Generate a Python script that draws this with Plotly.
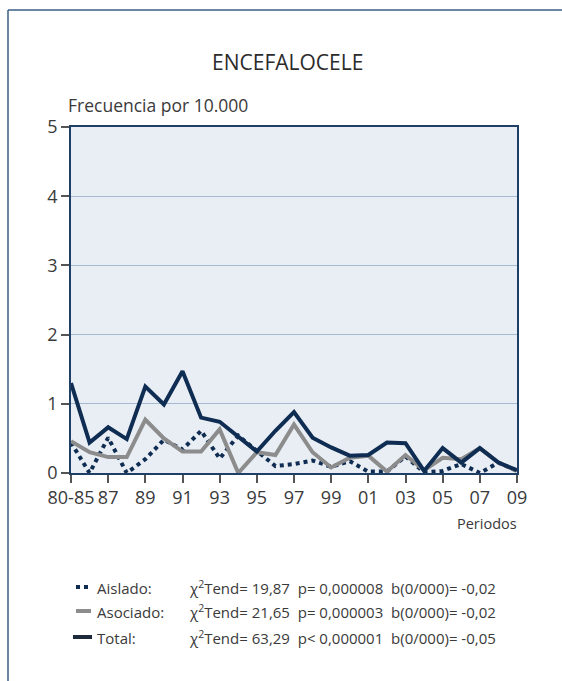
import plotly.graph_objects as go

periods = ["80-85"] + [f"{y:02d}" for y in list(range(86, 100)) + list(range(0, 10))]
tick_labels = ["80-85", "87", "89", "91", "93", "95", "97", "99", "01", "03", "05", "07", "09"]

aislado = [0.44, 0.00, 0.51, 0.00, 0.20, 0.48, 0.34, 0.61, 0.21, 0.54, 0.32, 0.10,
           0.13, 0.18, 0.09, 0.17, 0.02, 0.02, 0.24, 0.01, 0.03, 0.13, 0.00, 0.15, 0.03]
asociado = [0.46, 0.30, 0.23, 0.23, 0.77, 0.50, 0.31, 0.31, 0.63, 0.00, 0.30, 0.26,
            0.70, 0.30, 0.08, 0.22, 0.25, 0.02, 0.26, 0.04, 0.22, 0.20, 0.36, 0.15, 0.03]
total = [1.30, 0.44, 0.66, 0.49, 1.25, 0.99, 1.47, 0.80, 0.74, 0.52, 0.31, 0.61,
         0.88, 0.51, 0.37, 0.25, 0.26, 0.44, 0.43, 0.03, 0.36, 0.15, 0.36, 0.15, 0.04]

legend_names = ["Aislado:", "Asociado:", "Total:"]
legend_stats = ["χ<sup>2</sup>Tend= 19,87  p= 0,000008  b(0/000)= -0,02",
                "χ<sup>2</sup>Tend= 21,65  p= 0,000003  b(0/000)= -0,02",
                "χ<sup>2</sup>Tend= 63,29  p< 0,000001  b(0/000)= -0,05"]

NAVY = "#0f2d52"
GRAY = "#8c8c8c"
TXT = "#3a3a3a"
FONT = "Open Sans"

xs = list(range(len(periods)))
fig = go.Figure()
fig.add_trace(go.Scatter(x=xs, y=aislado, mode="lines", line=dict(color=NAVY, width=4, dash="dot"),
                         hoverinfo="skip", showlegend=False))
fig.add_trace(go.Scatter(x=xs, y=asociado, mode="lines", line=dict(color=GRAY, width=4),
                         hoverinfo="skip", showlegend=False))
fig.add_trace(go.Scatter(x=xs, y=total, mode="lines", line=dict(color=NAVY, width=4),
                         hoverinfo="skip", showlegend=False))

L, R, T, B = 71, 45, 127, 208
W, H = 562, 681
pw, ph = W - L - R, H - T - B

def px(x):
    return (x - L) / pw

def py(y):
    return (H - B - y) / ph

fig.update_layout(
    width=W, height=H,
    margin=dict(l=L, r=R, t=T, b=B),
    paper_bgcolor="white",
    plot_bgcolor="#e9eef4",
    font=dict(family=FONT, color=TXT),
    xaxis=dict(range=[0, len(periods) - 1], tickmode="array",
               tickvals=list(range(0, len(periods), 2)), ticktext=tick_labels,
               ticks="outside", ticklen=8, tickcolor="#555", tickwidth=1.5,
               showgrid=False, zeroline=False, showline=True, linecolor="#1f3f66",
               linewidth=1.5, mirror=True, tickfont=dict(size=18, color=TXT, family=FONT)),
    yaxis=dict(range=[0, 5], tickvals=[0, 1, 2, 3, 4, 5], ticks="outside", ticklen=8,
               tickcolor="#555", tickwidth=1.5, showgrid=True, gridcolor="#a3bad2",
               gridwidth=1, zeroline=False, showline=True, linecolor="#1f3f66",
               linewidth=1.5, mirror=True, tickfont=dict(size=18, color=TXT, family=FONT)),
)

ann = []
ann.append(dict(text="ENCEFALOCELE", x=px(287), y=py(62), xref="paper", yref="paper",
                showarrow=False, font=dict(size=21, color="#2b2b2b"), xanchor="center", yanchor="middle"))
ann.append(dict(text="Frecuencia por 10.000", x=px(66), y=py(105), xref="paper", yref="paper",
                showarrow=False, font=dict(size=17.5, color=TXT), xanchor="left", yanchor="middle"))
ann.append(dict(text="Periodos", x=px(519), y=py(523), xref="paper", yref="paper",
                showarrow=False, font=dict(size=14.5, color=TXT), xanchor="right", yanchor="middle"))

rows_y = [587, 611, 637]
for i in range(3):
    ann.append(dict(text=legend_names[i], x=px(95), y=py(rows_y[i] + 1), xref="paper", yref="paper",
                    showarrow=False, font=dict(size=15, color=TXT), xanchor="left", yanchor="middle"))
    ann.append(dict(text=legend_stats[i], x=px(187), y=py(rows_y[i]), xref="paper", yref="paper",
                    showarrow=False, font=dict(size=15, color=TXT), xanchor="left", yanchor="middle"))
fig.update_layout(annotations=ann)

shapes = []
# frame
shapes.append(dict(type="line", xref="paper", yref="paper", x0=px(8), x1=px(562), y0=py(10), y1=py(10),
                   line=dict(color="#3b5f86", width=1.5)))
shapes.append(dict(type="line", xref="paper", yref="paper", x0=px(8), x1=px(8), y0=py(10), y1=py(681),
                   line=dict(color="#3b5f86", width=1.5)))
# legend symbols
shapes.append(dict(type="line", xref="paper", yref="paper", x0=px(76), x1=px(91), y0=py(587), y1=py(587),
                   line=dict(color=NAVY, width=4, dash="dot")))
shapes.append(dict(type="line", xref="paper", yref="paper", x0=px(76), x1=px(91), y0=py(611), y1=py(611),
                   line=dict(color=GRAY, width=4)))
shapes.append(dict(type="line", xref="paper", yref="paper", x0=px(73), x1=px(92), y0=py(637), y1=py(637),
                   line=dict(color="#1c2a3c", width=4)))
fig.update_layout(shapes=shapes)

fig.write_html("out.html", config={"displayModeBar": False},
               post_script="document.body.style.margin='0';document.body.style.overflow='hidden';")
